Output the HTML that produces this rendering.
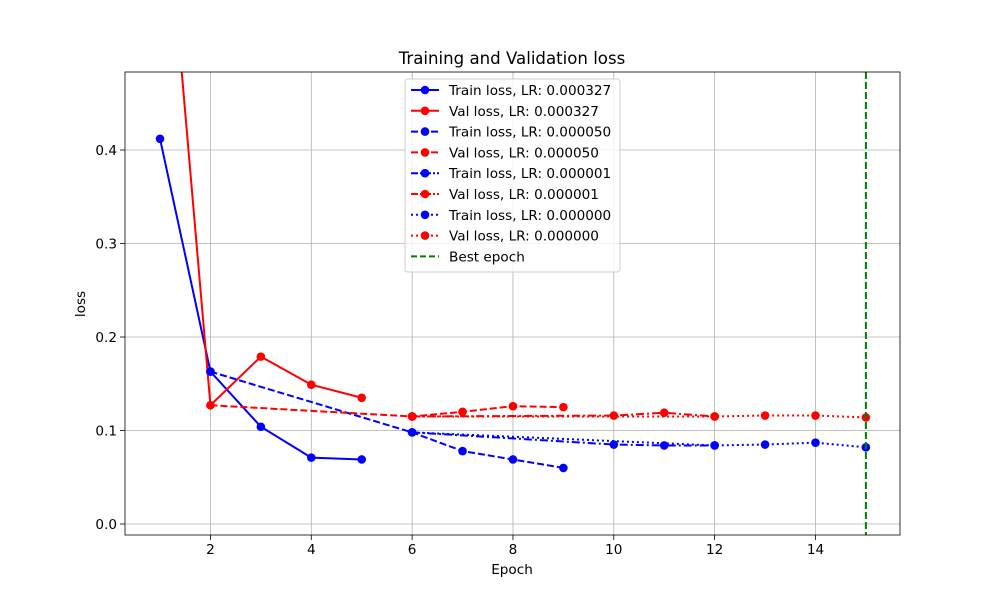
<!DOCTYPE html>
<html><head><meta charset="utf-8"><style>
body{margin:0;background:#fff}
svg{display:block;font-family:"DejaVu Sans","Liberation Sans",sans-serif}
</style></head><body>
<svg id="c" width="1000" height="600"></svg>
<script>
const xTicks=[2,4,6,8,10,12,14];
const yTicks=[0.0,0.1,0.2,0.3,0.4];
const yTickLabels=["0.0","0.1","0.2","0.3","0.4"];
const trainX1=[1,2,3,4,5], trainY1=[0.412,0.163,0.104,0.071,0.069];
const valX1=[1,2,3,4,5], valY1=[0.753,0.127,0.179,0.149,0.135];
const trainX2=[2,6,7,8,9], trainY2=[0.163,0.098,0.078,0.069,0.060];
const valX2=[2,6,7,8,9], valY2=[0.127,0.115,0.120,0.126,0.125];
const trainX3=[6,10,11,12], trainY3=[0.098,0.085,0.084,0.084];
const valX3=[6,10,11,12], valY3=[0.115,0.116,0.119,0.115];
const trainX4=[6,12,13,14,15], trainY4=[0.098,0.084,0.085,0.087,0.082];
const valX4=[6,12,13,14,15], valY4=[0.115,0.115,0.116,0.116,0.114];
const bestEpoch=15;
const L=125,R=900,T=72,B=535;
const sx=v=>109.6+(v)*50.42;
const sy=v=>524-v*935;
const NS="http://www.w3.org/2000/svg";
const svg=document.getElementById('c');
function el(t,a,p){const e=document.createElementNS(NS,t);for(const k in a)e.setAttribute(k,a[k]);(p||svg).appendChild(e);return e;}
const defs=el('defs',{});const cp=el('clipPath',{id:'clip'},defs);el('rect',{x:L,y:T,width:R-L,height:B-T},cp);
xTicks.forEach(v=>{const g=el('line',{x1:sx(v),x2:sx(v),y1:T,y2:B,stroke:'#b0b0b0','stroke-width':0.8});

el('line',{x1:sx(v),x2:sx(v),y1:B,y2:B+5,stroke:'#000','stroke-width':0.8});
const t=el('text',{x:sx(v),y:B+19,'text-anchor':'middle','font-size':13.6});t.textContent=v;
});
yTicks.forEach((v,i)=>{const g=el('line',{x1:L,x2:R,y1:sy(v),y2:sy(v),stroke:'#b0b0b0','stroke-width':0.8});

el('line',{x1:L-5,x2:L,y1:sy(v),y2:sy(v),stroke:'#000','stroke-width':0.8});
const t=el('text',{x:L-8,y:sy(v)+5,'text-anchor':'end','font-size':13.6});t.textContent=yTickLabels[i];
});
const plot=el('g',{'clip-path':'url(#clip)'});
const styles={solid:'',dash:'7,3',dashdot:'8,3,2,3',dot:'2,3'};
function series(xs,ys,color,dash,name){
 const g=el('g',{},plot);
 el('polyline',{points:xs.map((x,i)=>sx(x)+','+sy(ys[i])).join(' '),fill:'none',stroke:color,'stroke-width':2,'stroke-dasharray':dash},g);
 xs.forEach((x,i)=>{const c=el('circle',{cx:sx(x),cy:sy(ys[i]),r:4.3,fill:color},g);
 });
}
series(trainX1,trainY1,'#0000ff',styles.solid,'train-lr-000327');
series(valX1,valY1,'#ff0000',styles.solid,'val-lr-000327');
series(trainX2,trainY2,'#0000ff',styles.dash,'train-lr-000050');
series(valX2,valY2,'#ff0000',styles.dash,'val-lr-000050');
series(trainX3,trainY3,'#0000ff',styles.dashdot,'train-lr-000001');
series(valX3,valY3,'#ff0000',styles.dashdot,'val-lr-000001');
series(trainX4,trainY4,'#0000ff',styles.dot,'train-lr-000000');
series(valX4,valY4,'#ff0000',styles.dot,'val-lr-000000');
const bl=el('line',{x1:sx(bestEpoch),x2:sx(bestEpoch),y1:T,y2:B,stroke:'#008000','stroke-width':2,'stroke-dasharray':'7,3'},plot);

el('rect',{x:L,y:T,width:R-L,height:B-T,fill:'none',stroke:'#000','stroke-width':0.8});
const tt=el('text',{x:512,y:64,'text-anchor':'middle','font-size':16.6});tt.textContent='Training and Validation loss';

const xl=el('text',{x:512,y:574,'text-anchor':'middle','font-size':13.6});xl.textContent='Epoch';

const yl=el('text',{x:85,y:304,'text-anchor':'middle','font-size':13.6,transform:'rotate(-90 85 304)'});yl.textContent='loss';

const lg=el('g',{});
el('rect',{x:405,y:79,width:215,height:193,rx:3,fill:'#fff','fill-opacity':0.8,stroke:'#ccc'},lg);
const entries=[['Train loss, LR: 0.000327','#0000ff',styles.solid,1],['Val loss, LR: 0.000327','#ff0000',styles.solid,1],
['Train loss, LR: 0.000050','#0000ff',styles.dash,1],['Val loss, LR: 0.000050','#ff0000',styles.dash,1],
['Train loss, LR: 0.000001','#0000ff','7,2,2,2',1],['Val loss, LR: 0.000001','#ff0000','7,2,2,2',1],
['Train loss, LR: 0.000000','#0000ff',styles.dot,1],['Val loss, LR: 0.000000','#ff0000',styles.dot,1],
['Best epoch','#008000','6,3',0]];
entries.forEach((e,i)=>{const y=90+i*20.8;const g=el('g',{},lg);

el('line',{x1:411,x2:439,y1:y,y2:y,stroke:e[1],'stroke-width':2,'stroke-dasharray':e[2]},g);
if(e[3])el('circle',{cx:425,cy:y,r:4.3,fill:e[1]},g);
const t=el('text',{x:449,y:y+5,'font-size':13.6},g);t.textContent=e[0];});
</script>
</body></html>
